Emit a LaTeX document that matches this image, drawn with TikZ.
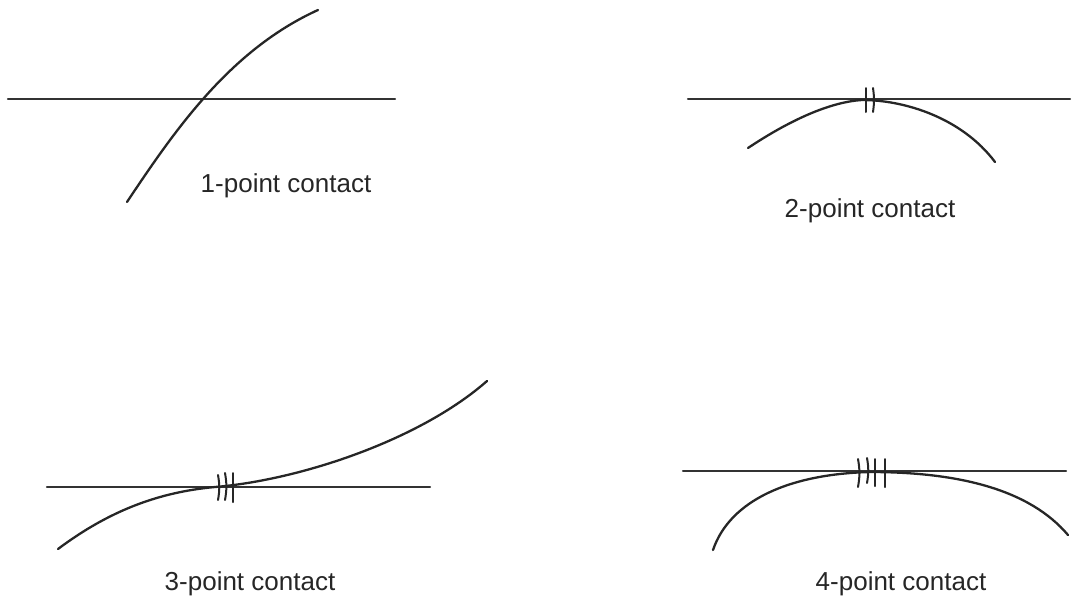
\documentclass[tikz,border=0pt]{standalone}
\usepackage{fontspec}
\setmainfont{Liberation Sans}
\begin{document}
\begin{tikzpicture}[x=1pt,y=-1pt,
  curve/.style={line width=2.3pt,line cap=round,color=black!85},
  baseline/.style={line width=2.1pt,line cap=round,color=black!80},
  tick/.style={line width=2pt,line cap=round,color=black!85},
  lbl/.style={font=\fontsize{26}{31}\selectfont,inner sep=0pt,text=black!85}]
\useasboundingbox (0,0) rectangle (1078,603);
% Panel 1
\coordinate (a1) at (8,99);
\coordinate (b1) at (395,99);
\draw[baseline] (a1) -- (b1);
\coordinate (s1) at (127,202);
\coordinate (e1) at (318,10);
\draw[curve] (s1) .. controls (175,130) and (230,50) .. (e1);
\node[lbl] (l1) at (286,186) {1-point contact};
% Panel 2
\coordinate (a2) at (688,99);
\coordinate (b2) at (1070,99);
\draw[baseline] (a2) -- (b2);
\coordinate (s2) at (748,148);
\coordinate (c2) at (862,100);
\coordinate (e2) at (995,162);
\draw[curve] (s2) .. controls (790,120) and (830,102) .. (c2)
  .. controls (905,100) and (962,118) .. (e2);
\draw[tick] (866,88) -- (866,112);
\draw[tick] (873,88) to[bend left=8] (873,112);
\node[lbl] (l2) at (870,211) {2-point contact};
% Panel 3
\coordinate (a3) at (47,487);
\coordinate (b3) at (430,487);
\draw[baseline] (a3) -- (b3);
\coordinate (s3) at (58,549);
\coordinate (c3) at (215,487);
\coordinate (e3) at (487,381);
\draw[curve] (s3) .. controls (110,510) and (160,492) .. (c3)
  .. controls (300,480) and (420,440) .. (e3);
\draw[tick] (218,475) to[bend left=10] (218,500);
\draw[tick] (225,473) to[bend left=10] (225,500);
\draw[tick] (233,473) -- (233,502);
\node[lbl] (l3) at (250,584) {3-point contact};
% Panel 4
\coordinate (a4) at (683,471);
\coordinate (b4) at (1066,471);
\draw[baseline] (a4) -- (b4);
\coordinate (s4) at (713,550);
\coordinate (c4) at (870,472);
\coordinate (e4) at (1068,535);
\draw[curve] (s4) .. controls (730,500) and (790,474) .. (c4)
  .. controls (960,472) and (1030,490) .. (e4);
\draw[tick] (858,459) to[bend left=10] (858,487);
\draw[tick] (867,458) to[bend left=10] (867,483);
\draw[tick] (875,459) -- (875,486);
\draw[tick] (885,459) -- (885,487);
\node[lbl] (l4) at (901,584) {4-point contact};
\end{tikzpicture}
\end{document}
